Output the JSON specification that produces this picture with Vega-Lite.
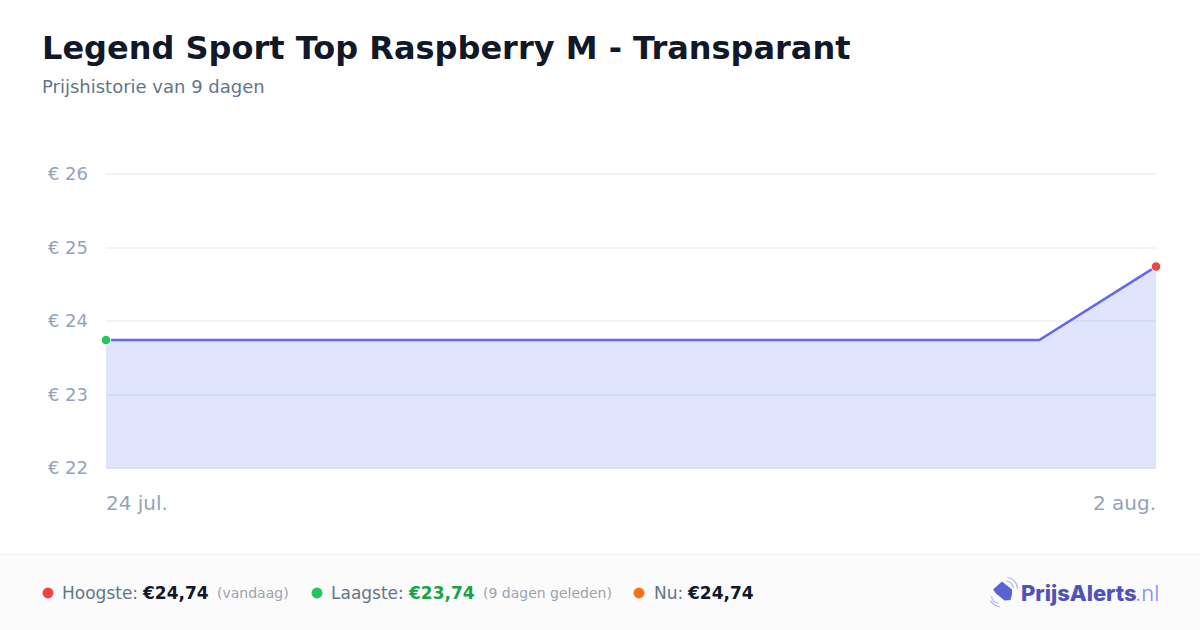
{
  "$schema": "https://vega.github.io/schema/vega-lite/v6.json",
  "width": 1050,
  "height": 294,
  "autosize": "none",
  "padding": {"left": 106, "top": 174, "right": 44, "bottom": 162},
  "background": "#ffffff",
  "view": {"stroke": null},
  "title": {
    "text": "Legend Sport Top Raspberry M - Transparant",
    "subtitle": "Prijshistorie van 9 dagen",
    "anchor": "start",
    "frame": "group",
    "dx": -64,
    "offset": 68,
    "font": "DejaVu Sans",
    "fontSize": 32,
    "fontWeight": "bold",
    "color": "#111827",
    "subtitleFont": "DejaVu Sans",
    "subtitleFontSize": 18,
    "subtitleColor": "#64748b",
    "subtitlePadding": 13
  },
  "datasets": {
    "history": [
      {"date": "2025-07-24", "price": 23.74},
      {"date": "2025-07-25", "price": 23.74},
      {"date": "2025-07-26", "price": 23.74},
      {"date": "2025-07-27", "price": 23.74},
      {"date": "2025-07-28", "price": 23.74},
      {"date": "2025-07-29", "price": 23.74},
      {"date": "2025-07-30", "price": 23.74},
      {"date": "2025-07-31", "price": 23.74},
      {"date": "2025-08-01", "price": 23.74},
      {"date": "2025-08-02", "price": 24.74}
    ],
    "extremes": [
      {"date": "2025-07-24", "price": 23.74, "kind": "Laagste"},
      {"date": "2025-08-02", "price": 24.74, "kind": "Hoogste"}
    ],
    "stats": [
      {"slot": 0, "item": "Hoogste", "label": "Hoogste:", "value": "€24,74", "note": "(vandaag)"},
      {"slot": 1, "item": "Laagste", "label": "Laagste:", "value": "€23,74", "note": "(9 dagen geleden)"},
      {"slot": 2, "item": "Nu", "label": "Nu:", "value": "€24,74", "note": ""}
    ],
    "brand": [{"name": "PrijsAlerts", "tld": ".nl"}]
  },
  "layer": [
    {
      "data": {"name": "history"},
      "encoding": {
        "x": {
          "field": "date",
          "type": "temporal",
          "title": null,
          "scale": {"type": "utc", "domain": ["2025-07-24", "2025-08-02"]},
          "axis": {
            "values": ["2025-07-24", "2025-08-02"],
            "labelExpr": "lower(utcFormat(datum.value, '%-d %b')) + '.'",
            "labelFlush": true,
            "labelFont": "DejaVu Sans",
            "labelFontSize": 20,
            "labelColor": "#94a3b8",
            "labelPadding": 26,
            "ticks": false,
            "grid": false,
            "domainColor": "#dfe0e8",
            "domainWidth": 2,
            "translate": 0,
            "zindex": 1
          }
        },
        "y": {
          "field": "price",
          "type": "quantitative",
          "title": null,
          "scale": {"domain": [22, 26]},
          "axis": {
            "values": [22, 23, 24, 25, 26],
            "labelExpr": "'€ ' + datum.value",
            "labelFont": "DejaVu Sans",
            "labelFontSize": 18,
            "labelColor": "#94a3b8",
            "labelPadding": 18,
            "labelOffset": 1,
            "ticks": false,
            "domain": false,
            "grid": true,
            "gridColor": "#e5e7eb",
            "gridWidth": 1,
            "translate": 0
          }
        }
      },
      "layer": [
        {"mark": {"type": "area", "color": "#6378f6", "opacity": 0.2}, "encoding": {"y2": {"datum": 22}}},
        {"mark": {"type": "line", "color": "#6366f1", "strokeWidth": 2.5}},
        {
          "data": {"name": "extremes"},
          "mark": {"type": "point", "filled": true, "size": 90, "opacity": 1, "stroke": "#ffffff", "strokeWidth": 1, "clip": false},
          "encoding": {
            "color": {
              "field": "kind",
              "type": "nominal",
              "legend": null,
              "scale": {"domain": ["Laagste", "Hoogste"], "range": ["#22c55e", "#ef4444"]}
            }
          }
        }
      ]
    },
    {
      "data": {"values": [{"part": "footer"}]},
      "mark": {"type": "rect", "color": "#fbfbfb", "stroke": "#f1f1f3", "strokeWidth": 1, "clip": false},
      "encoding": {
        "x": {"datum": 0, "type": "quantitative", "axis": null, "scale": {"domain": [0, 1], "range": [-107, 1095]}},
        "x2": {"datum": 1},
        "y": {"datum": 0, "type": "quantitative", "axis": null, "scale": {"domain": [0, 1], "range": [380.5, 460]}},
        "y2": {"datum": 1}
      }
    },
    {
      "data": {"name": "stats"},
      "mark": {"type": "point", "filled": true, "opacity": 1, "size": 120, "clip": false},
      "encoding": {
        "x": {"field": "slot", "type": "quantitative", "axis": null, "scale": {"domain": [0, 1, 2], "range": [-58, 211, 533]}},
        "y": {"datum": 0, "type": "quantitative", "axis": null, "scale": {"domain": [0, 1], "range": [419, 420]}},
        "color": {"field": "item", "type": "nominal", "legend": null, "scale": {"domain": ["Hoogste", "Laagste", "Nu"], "range": ["#ef4444", "#22c55e", "#f97316"]}}
      }
    },
    {
      "data": {"name": "stats"},
      "mark": {"type": "text", "align": "left", "baseline": "middle", "font": "DejaVu Sans", "fontSize": 17, "color": "#64748b", "clip": false},
      "encoding": {
        "text": {"field": "label"},
        "x": {"field": "slot", "type": "quantitative", "axis": null, "scale": {"domain": [0, 1, 2], "range": [-44, 225, 548]}},
        "y": {"datum": 0, "type": "quantitative", "axis": null, "scale": {"domain": [0, 1], "range": [420, 421]}}
      }
    },
    {
      "data": {"name": "stats"},
      "mark": {"type": "text", "align": "left", "baseline": "middle", "font": "DejaVu Sans", "fontSize": 17, "fontWeight": "bold", "clip": false},
      "encoding": {
        "text": {"field": "value"},
        "x": {"field": "slot", "type": "quantitative", "axis": null, "scale": {"domain": [0, 1, 2], "range": [37, 303, 582]}},
        "y": {"datum": 0, "type": "quantitative", "axis": null, "scale": {"domain": [0, 1], "range": [420, 421]}},
        "color": {"field": "item", "type": "nominal", "legend": null, "scale": {"domain": ["Hoogste", "Laagste", "Nu"], "range": ["#111827", "#16a34a", "#111827"]}}
      }
    },
    {
      "data": {"name": "stats"},
      "mark": {"type": "text", "align": "left", "baseline": "middle", "font": "DejaVu Sans", "fontSize": 14, "color": "#9ca3af", "clip": false},
      "encoding": {
        "text": {"field": "note"},
        "x": {"field": "slot", "type": "quantitative", "axis": null, "scale": {"domain": [0, 1, 2], "range": [111, 377, 700]}},
        "y": {"datum": 0, "type": "quantitative", "axis": null, "scale": {"domain": [0, 1], "range": [420, 421]}}
      }
    },
    {
      "data": {"name": "brand"},
      "mark": {"type": "text", "align": "left", "baseline": "middle", "font": "Inter", "fontSize": 22, "fontWeight": 800, "color": "#4f52bd", "clip": false},
      "encoding": {
        "text": {"field": "name"},
        "x": {"datum": 0, "type": "quantitative", "axis": null, "scale": {"domain": [0, 1], "range": [915, 916]}},
        "y": {"datum": 0, "type": "quantitative", "axis": null, "scale": {"domain": [0, 1], "range": [420, 421]}}
      }
    },
    {
      "data": {"name": "brand"},
      "mark": {"type": "text", "align": "left", "baseline": "middle", "font": "Inter", "fontSize": 22, "fontWeight": 300, "color": "#818cf8", "clip": false},
      "encoding": {
        "text": {"field": "tld"},
        "x": {"datum": 0, "type": "quantitative", "axis": null, "scale": {"domain": [0, 1], "range": [1029, 1030]}},
        "y": {"datum": 0, "type": "quantitative", "axis": null, "scale": {"domain": [0, 1], "range": [420, 421]}}
      }
    },
    {
      "data": {"name": "brand"},
      "mark": {"type": "point", "filled": true, "opacity": 1, "size": 400, "color": "#5b63d3", "clip": false, "shape": "M-0.1,-0.95 L-1,-0.15 L-0.7,0.25 L0.15,0.95 L0.75,0.9 L0.9,0.3 L0.9,-0.15 Z"},
      "encoding": {
        "x": {"datum": 0, "type": "quantitative", "axis": null, "scale": {"domain": [0, 1], "range": [897, 898]}},
        "y": {"datum": 0, "type": "quantitative", "axis": null, "scale": {"domain": [0, 1], "range": [417, 418]}}
      }
    },
    {
      "data": {"name": "brand"},
      "mark": {"type": "point", "filled": false, "opacity": 1, "size": 400, "color": "#a5b4fc", "strokeWidth": 1.2, "clip": false, "shape": "M0.35,-1.0 Q0.95,-0.9 1.05,-0.3 M0.45,-1.35 Q1.35,-1.2 1.45,-0.25 M-1.15,0.55 Q-1.05,1.15 -0.45,1.25 M-1.25,0.95 Q-1,1.45 -0.3,1.6"},
      "encoding": {
        "x": {"datum": 0, "type": "quantitative", "axis": null, "scale": {"domain": [0, 1], "range": [897, 898]}},
        "y": {"datum": 0, "type": "quantitative", "axis": null, "scale": {"domain": [0, 1], "range": [417, 418]}}
      }
    }
  ],
  "resolve": {"scale": {"x": "independent", "y": "independent", "color": "independent"}, "axis": {"x": "independent", "y": "independent"}}
}
